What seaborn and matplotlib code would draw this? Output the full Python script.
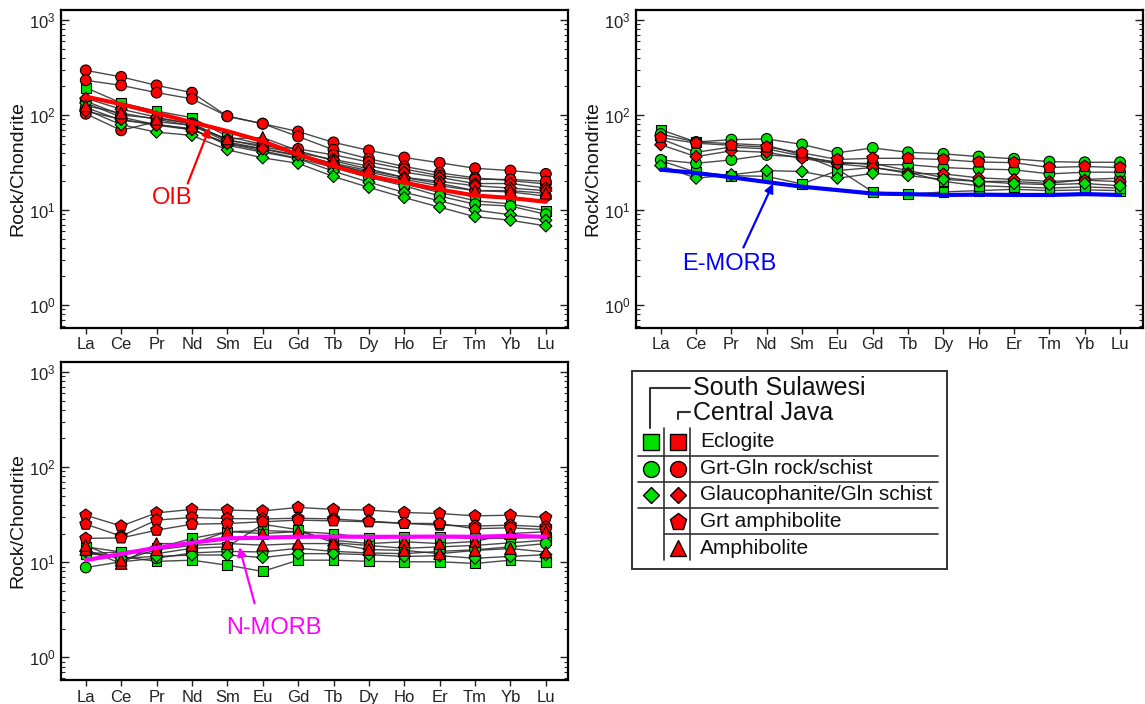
import numpy as np
import pandas as pd
import matplotlib
matplotlib.use("Agg")
import matplotlib.pyplot as plt
import seaborn as sns
from matplotlib.ticker import LogLocator, NullFormatter, FixedLocator
from matplotlib.patches import Rectangle

# ---------------- data ----------------
elements = ["La", "Ce", "Pr", "Nd", "Sm", "Eu", "Gd", "Tb", "Dy", "Ho", "Er", "Tm", "Yb", "Lu"]

# Panel 1 (OIB-like)
p1_region = ["CJ", "CJ", "SS", "SS", "SS", "CJ", "CJ", "CJ", "SS", "CJ", "CJ"]
p1_rock = ["Grt-Gln", "Grt-Gln", "Eclogite", "Gln", "Gln", "Grt-Gln", "Gln", "Amph", "Grt-Gln", "Grt-Gln", "Gln"]
p1_values = [
    [295, 252, 205, 172, 97, 81, 67, 51.5, 42.4, 35.7, 31.4, 27.5, 26, 24],
    [232, 205, 172, 148, 97, 81, 59.4, 43, 34.6, 28.7, 24.6, 21.8, 20.4, 18.8],
    [194, 134, 110, 93.7, 59.4, 49, 39, 30.6, 24, 18.8, 15.3, 12.5, 11.6, 9.8],
    [134, 95, 79, 72, 48, 40.6, 34.6, 25.6, 19.6, 15.3, 12.5, 10, 8.9, 7.8],
    [114, 79, 66, 61, 43, 35.4, 31, 22.5, 17.3, 13.5, 10.7, 8.5, 7.8, 6.8],
    [103, 69, 85, 78, 52, 44, 37, 30, 25, 21, 18, 16, 15.5, 14],
    [150, 115, 95, 80, 55, 46, 40, 34, 29, 25, 22, 19, 19, 17],
    [125, 105, 90, 77, 56, 58, 42, 33, 27, 22, 19, 16, 16, 15],
    [120, 88, 80, 70, 50, 42, 35, 28, 22, 18, 14, 11.5, 11, 9],
    [140, 100, 92, 82, 54, 48, 44, 38, 32, 27, 23, 21, 21, 20],
    [110, 90, 78, 70, 50, 44, 38, 31, 26, 22, 20, 18, 17, 16],
]

# Panel 2 (E-MORB-like)
p2_region = ["SS", "SS", "CJ", "CJ", "SS", "SS", "SS", "SS"]
p2_rock = ["Eclogite", "Grt-Gln", "Grt amph", "Gln", "Grt-Gln", "Grt-Gln", "Gln", "Eclogite"]
p2_values = [
    [70, 52, 50, 48, 38, 27, 15.5, 14.6, 15.5, 16, 16.5, 16, 16.3, 16],
    [63, 52, 55, 56, 49, 40, 45, 40.5, 39, 36.5, 34.6, 32.3, 31.8, 31.8],
    [58, 50.5, 48, 46, 40, 34, 35, 35, 34, 32, 31.5, 28, 28.7, 28],
    [48.6, 36.5, 42, 40.5, 35, 30.6, 28.2, 24.3, 24, 21.8, 21, 20, 20.6, 19.9],
    [56, 40.5, 46, 44, 37, 31, 31, 26, 22, 20, 20, 19, 21, 21.6],
    [33.7, 31, 33.7, 38, 36, 32, 30, 30, 28, 27, 26.5, 24, 25, 25],
    [29.4, 21.6, 23.5, 26, 25.4, 21.6, 24.3, 23, 21, 20, 19, 18.5, 19, 18],
    [33, 25, 23, 22.6, 18.8, 26, 28, 25, 20, 18, 17.5, 17, 17.5, 17],
]

# Panel 3 (N-MORB-like)
p3_region = ["CJ", "CJ", "CJ", "CJ", "CJ", "SS", "SS", "SS", "SS", "SS"]
p3_rock = ["Grt amph", "Grt amph", "Grt amph", "Amph", "Amph", "Eclogite", "Eclogite", "Gln", "Grt-Gln", "Eclogite"]
p3_values = [
    [31.2, 24, 33, 35.9, 35.3, 34.6, 37.7, 35.9, 35.3, 33.3, 32.5, 30.7, 31.2, 29.5],
    [25.1, 18.8, 27.7, 29.5, 28.8, 28.5, 29, 28.5, 27, 25.6, 24.5, 24, 24.5, 23.5],
    [17.8, 18, 21.7, 25.1, 25.5, 26.6, 27.7, 27.2, 26.6, 25.6, 25.5, 22.5, 23, 22],
    [13.6, 9.7, 15.7, 15.7, 21, 20, 21, 17, 15.7, 16.4, 15.7, 16.5, 20, 20.9],
    [15, 10.5, 13.5, 15, 15.7, 15.1, 15.7, 15.7, 13.6, 13.3, 12.3, 13.3, 13.9, 12.8],
    [14.5, 12.8, 14, 17.8, 20.9, 21.5, 20.9, 20, 17.8, 18.5, 18.5, 17.8, 17.8, 18.5],
    [12.3, 11.5, 10.2, 10.5, 9.3, 8.0, 10.5, 10.5, 10.2, 10.1, 10.1, 9.7, 10.5, 10.1],
    [13, 11, 11.5, 11.9, 11.9, 11.2, 12.3, 12.3, 12, 11.5, 11.7, 11, 11.5, 12],
    [8.8, 10.1, 11, 12.5, 13, 12.8, 14, 13, 12.5, 12.3, 13, 13.5, 14.5, 15.7],
    [12.3, 12.8, 12.3, 14, 14.5, 25, 22, 16, 15, 14, 14.5, 15, 16, 17],
]

# Reference patterns (chondrite-normalised)
oib = [156, 130, 104.5, 84, 67.6, 53, 38.3, 29, 22.8, 19.4, 16.4, 14.2, 13.4, 12.2]
emorb = [26.6, 24.5, 22.1, 19.7, 17.6, 16.2, 14.9, 14.7, 14.4, 14.5, 14.4, 14.4, 14.7, 14.4]
nmorb = [10.5, 12.2, 14.2, 16.0, 17.8, 18.1, 18.5, 18.6, 18.5, 18.5, 18.6, 18.5, 18.9, 18.5]

legend_rocks = ["Eclogite", "Grt-Gln rock/schist", "Glaucophanite/Gln schist", "Grt amphibolite", "Amphibolite"]
legend_regions = ["South Sulawesi", "Central Java"]

# ---------------- style ----------------
GREEN = "#00e000"
RED = "#ff0000"
region_colors = {"SS": GREEN, "CJ": RED}
rock_markers = {"Eclogite": "s", "Grt-Gln": "o", "Gln": "D", "Grt amph": "p", "Amph": "^"}
rock_sizes = {"Eclogite": 50, "Grt-Gln": 60, "Gln": 38, "Grt amph": 80, "Amph": 70}

sns.set_theme(style="white")
plt.rcParams["font.family"] = ["Liberation Sans", "DejaVu Sans"]
plt.rcParams["mathtext.fontset"] = "custom"
plt.rcParams["mathtext.rm"] = "Liberation Sans"
plt.rcParams["mathtext.it"] = "Liberation Sans:italic"
plt.rcParams["mathtext.bf"] = "Liberation Sans:bold"

W, H = 1145, 704
fig = plt.figure(figsize=(W / 100, H / 100), dpi=100)


def px_axes(left, top, right, bottom):
    return fig.add_axes([left / W, 1 - bottom / H, (right - left) / W, (bottom - top) / H])


def long_df(values, regions, rocks):
    rows = []
    for i, (vals, reg, rk) in enumerate(zip(values, regions, rocks)):
        for j, v in enumerate(vals):
            rows.append({"sample": i, "idx": j, "value": v, "region": reg, "rock": rk})
    return pd.DataFrame(rows)


def draw_panel(ax, values, regions, rocks, ref, ref_color):
    df = long_df(values, regions, rocks)
    ax.set_yscale("log")
    sns.lineplot(data=df, x="idx", y="value", units="sample", estimator=None,
                 color="#2a2a2a", lw=1.0, alpha=0.85, ax=ax, legend=False, zorder=2)
    for rk, m in rock_markers.items():
        sub = df[df["rock"] == rk]
        if sub.empty:
            continue
        sns.scatterplot(data=sub, x="idx", y="value", hue="region", palette=region_colors,
                        marker=m, s=rock_sizes[rk], edgecolor="black", linewidth=0.8,
                        ax=ax, legend=False, zorder=3)
    sns.lineplot(x=np.arange(len(elements)), y=ref, color=ref_color, lw=3.0, ax=ax,
                 legend=False, zorder=4)
    ax.set_xlim(-0.7, 13.64)
    ax.set_ylim(0.577, 1274)
    ax.xaxis.set_major_locator(FixedLocator(range(len(elements))))
    ax.set_xticklabels(elements)
    ax.yaxis.set_major_locator(LogLocator(base=10, numticks=10))
    ax.yaxis.set_minor_locator(LogLocator(base=10, subs=np.arange(2, 10), numticks=20))
    ax.yaxis.set_minor_formatter(NullFormatter())
    ax.tick_params(axis="y", which="major", direction="in", length=6, width=1.0,
                   left=True, right=True, labelsize=12, colors="#222222", pad=4)
    ax.tick_params(axis="y", which="minor", direction="in", length=3, width=0.8,
                   left=True, right=True)
    ax.tick_params(axis="x", which="major", direction="out", length=4, width=1.0,
                   bottom=True, top=False, labelsize=12, colors="#222222", pad=3)
    ax.tick_params(axis="x", which="minor", bottom=False, top=False)
    for s in ax.spines.values():
        s.set_color("black")
        s.set_linewidth(1.6)
    ax.set_xlabel("")
    ax.set_ylabel("Rock/Chondrite", fontsize=14, color="#111111", labelpad=2)
    ax.grid(False)


ax1 = px_axes(61, 10, 568.5, 327.7)
ax2 = px_axes(636, 10, 1142.7, 327.7)
ax3 = px_axes(61, 362, 568.5, 680)

draw_panel(ax1, p1_values, p1_region, p1_rock, oib, RED)
draw_panel(ax2, p2_values, p2_region, p2_rock, emorb, "#0000ff")
draw_panel(ax3, p3_values, p3_region, p3_rock, nmorb, "#ff00ff")

arrow_kw = dict(arrowstyle="-|>", lw=1.6, mutation_scale=13, shrinkA=0, shrinkB=0)
ax1.annotate("", xy=(3.5, 74), xytext=(2.88, 19), arrowprops=dict(color=RED, **arrow_kw), zorder=5)
ax1.text(2.43, 13.5, "OIB", color=RED, fontsize=17, ha="center", va="center")
ax2.annotate("", xy=(3.18, 19), xytext=(2.34, 4.03), arrowprops=dict(color="#0000ff", **arrow_kw), zorder=5)
ax2.text(1.94, 2.71, "E-MORB", color="#0000ff", fontsize=17, ha="center", va="center")
ax3.annotate("", xy=(4.34, 14.4), xytext=(4.77, 3.7), arrowprops=dict(color="#ff00ff", **arrow_kw), zorder=5)
ax3.text(5.3, 2.02, "N-MORB", color="#ff00ff", fontsize=17, ha="center", va="center")

# ---------------- legend (drawn in pixel space) ----------------
lax = fig.add_axes([0, 0, 1, 1])
lax.set_xlim(0, W)
lax.set_ylim(H, 0)
lax.axis("off")
lax.patch.set_alpha(0)

lc = "#333333"
lax.add_patch(Rectangle((632, 371), 315, 198, fill=False, edgecolor=lc, lw=1.4))
lax.plot([650, 650, 690], [428, 388, 388], color=lc, lw=1.5)
lax.plot([678, 678, 690], [419, 412, 412], color=lc, lw=1.5)
lax.text(693, 388, legend_regions[0], fontsize=18, va="center", ha="left", color="#111111")
lax.text(693, 413, legend_regions[1], fontsize=18, va="center", ha="left", color="#111111")
lax.plot([664, 664], [428, 560], color=lc, lw=1.2)
lax.plot([690, 690], [428, 560], color=lc, lw=1.2)
for y, x0 in [(455.7, 638), (481.7, 638), (508.3, 638), (534.3, 664)]:
    lax.plot([x0, 938], [y, y], color=lc, lw=1.2)

row_y = [441.7, 468.7, 495, 521.7, 548]
row_marker = ["s", "o", "D", "p", "^"]
row_ms = [11, 11.5, 8.5, 12.5, 11.5]
for i, (y, m, ms, lab) in enumerate(zip(row_y, row_marker, row_ms, legend_rocks)):
    if i < 3:
        lax.plot([650.7], [y], marker=m, ms=ms, mfc=GREEN, mec="black", mew=1.0, ls="none")
    lax.plot([677.7], [y], marker=m, ms=ms, mfc=RED, mec="black", mew=1.0, ls="none")
    lax.text(700, y, lab, fontsize=15, va="center", ha="left", color="#111111")

fig.savefig("out.png", dpi=100)
